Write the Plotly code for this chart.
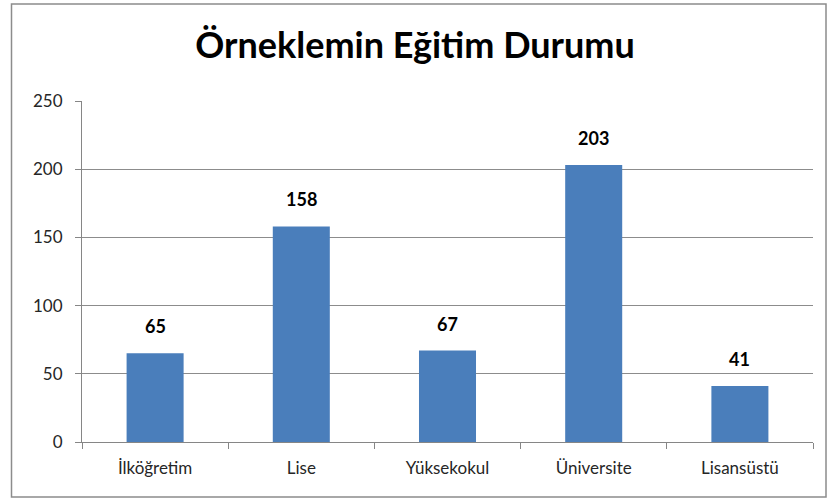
import plotly.graph_objects as go

categories = ["İlköğretim", "Lise", "Yüksekokul", "Üniversite", "Lisansüstü"]
values = [65, 158, 67, 203, 41]
y_ticks = [0, 50, 100, 150, 200, 250]

W, H = 830, 502
L, R, T, B = 82, 17, 101, 60
pw = W - L - R
ph = H - T - B

def px_x(p):
    return (p - L) / pw

def px_y(p):
    return (H - B - p) / ph

FONT = "Lato, Open Sans, sans-serif"

fig = go.Figure(go.Bar(
    x=categories, y=values, width=0.39,
    marker=dict(color="#4a7ebb", line=dict(width=0)),
    hoverinfo="x+y",
))

annotations = [
    dict(x=c, y=v, xref="x", yref="y", text=f"<b>{v}</b>", showarrow=False,
         yanchor="bottom", yshift=14,
         font=dict(family=FONT, size=18, color="#000000"))
    for c, v in zip(categories, values)
]

fig.update_layout(
    width=W, height=H,
    margin=dict(l=L, r=R, t=T, b=B),
    paper_bgcolor="white", plot_bgcolor="white",
    showlegend=False,
    title=dict(text="<b>Örneklemin Eğitim Durumu</b>", x=0.5, xanchor="center",
               y=1 - 45 / H, yanchor="middle",
               font=dict(family=FONT, size=36, color="#000000")),
    annotations=annotations,
    shapes=[dict(type="rect", xref="paper", yref="paper",
                 x0=px_x(11.5), x1=px_x(826), y0=px_y(497), y1=px_y(4),
                 line=dict(color="#8c8c8c", width=1.5), layer="below")],
)

fig.update_xaxes(
    showline=True, linecolor="#868686", linewidth=1.2,
    ticks="outside", tickson="boundaries", ticklen=6, tickcolor="#868686",
    tickfont=dict(family=FONT, size=17, color="#262626"),
    ticklabelstandoff=10,
    showgrid=False,
)
fig.update_yaxes(
    range=[0, 250], tickvals=y_ticks, showline=True, linecolor="#868686", linewidth=1.2,
    ticks="outside", ticklen=6, tickcolor="#868686",
    tickfont=dict(family=FONT, size=17, color="#262626"),
    ticklabelstandoff=9,
    showgrid=True, gridcolor="#8c8c8c", gridwidth=1, zeroline=False,
)

fig.write_html("out.html", config={"displayModeBar": False},
               post_script="document.body.style.margin='0';document.body.style.overflow='hidden';")
